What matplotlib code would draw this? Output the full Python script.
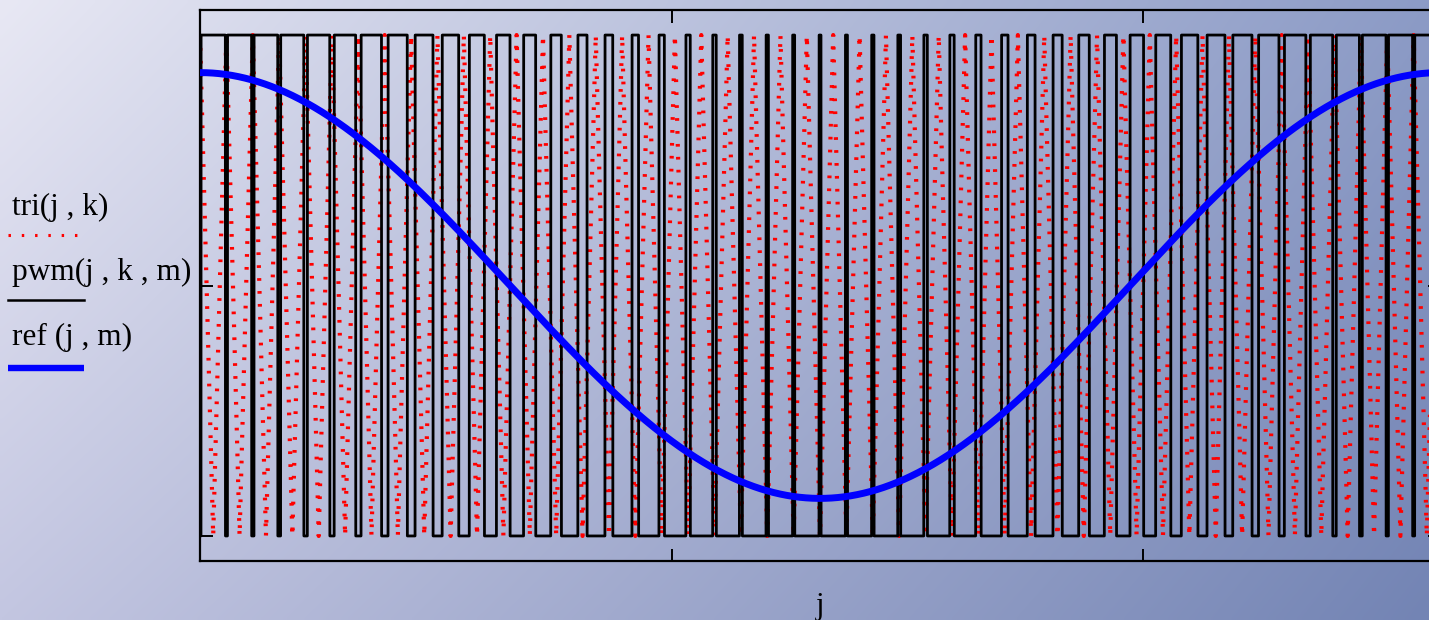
import numpy as np
import matplotlib
matplotlib.use('Agg')
import matplotlib.pyplot as plt
from matplotlib.lines import Line2D

# parameters
N = 1240            # samples of j in one period of ref (one full axis width)
k = 47              # carrier periods per ref period
m = 0.85            # modulation depth of ref
x_ticks = [0, 471.5, 943]
y_ticks = [-1, 0, 1]
y_range = (-1.1, 1.1)
legend_labels = ['tri(j , k)', 'pwm(j , k , m)', 'ref (j , m)']

W, H = 1429, 620


def px(x, y):
	# pixel position (from top-left) -> figure fraction
	return x / W, 1 - y / H


# functions of the chart
j = np.linspace(0, N, 60001)
ref = m * np.cos(2 * np.pi * j / N)
phase = (j * k / N) % 1.0
tri = 4 * np.abs(phase - 0.5) - 1
pwm = np.where(ref > tri, 1.0, -1.0)
# vertices of the carrier for the dotted trace
tri_j = np.arange(0, 2 * k + 1) * N / (2.0 * k)
tri_v = np.where(np.arange(0, 2 * k + 1) % 2 == 0, 1.0, -1.0)

fig = plt.figure(figsize=(W / 100.0, H / 100.0), dpi=100)

# background gradient (Mathcad style)
bg = fig.add_axes([0, 0, 1, 1], zorder=-10)
u = np.linspace(0, 1, 300)[None, :, None]
v = np.linspace(0, 1, 130)[:, None, None]
tl = np.array([232, 232, 244]) / 255.0
tr = np.array([140, 155, 198]) / 255.0
bl = np.array([195, 198, 225]) / 255.0
br = np.array([115, 132, 180]) / 255.0
top = tl + (tr - tl) * u
bot = bl + (br - bl) * u
img = top + (bot - top) * v
bg.imshow(img, aspect='auto', extent=[0, 1, 0, 1], origin='upper', interpolation='bilinear')
bg.axis('off')

l, b = px(200, 561)
r, t = px(1440, 10)
ax = fig.add_axes([l, b, r - l, t - b])
ax.patch.set_alpha(0)

ax.plot(tri_j, tri_v, color='red', lw=3.0, linestyle=(0, (0.65, 2.45)),
        dash_capstyle='butt', zorder=2)
ax.plot(j, pwm, color='black', lw=2.0, zorder=3)
ax.plot(j, ref, color='#0000ff', lw=5.0, zorder=4, solid_capstyle='butt')

ax.set_xlim(0, N)
ax.set_ylim(*y_range)
ax.set_xticks(x_ticks)
ax.set_yticks(y_ticks)
ax.tick_params(direction='in', length=9, width=1.4, top=True, right=True,
               labelbottom=False, labelleft=False, color='black')
for s in ax.spines.values():
	s.set_linewidth(1.6)
	s.set_color('black')

# axis label
fx, fy = px(820, 614)
fig.text(fx, fy, 'j', fontsize=22, family='Liberation Serif', ha='center', va='baseline')

# legend on the left
text_y = [215, 280, 345]
line_y = [235, 300, 368]
for lab, ty in zip(legend_labels, text_y):
	fx, fy = px(12, ty)
	fig.text(fx, fy, lab, fontsize=22.5, family='Liberation Serif', ha='left', va='baseline')

x0, _ = px(8, 0)
x1, _ = px(84, 0)
fig.add_artist(Line2D([x0, px(77, 0)[0]], [px(0, line_y[0])[1]] * 2, color='red', lw=2.2,
                      linestyle=(0, (0.8, 3.55)), dash_capstyle='butt', transform=fig.transFigure))
fig.add_artist(Line2D([x0, x1], [px(0, line_y[1])[1]] * 2, color='black', lw=1.8,
                      transform=fig.transFigure))
fig.add_artist(Line2D([x0, x1], [px(0, line_y[2])[1]] * 2, color='#0000ff', lw=4.6,
                      solid_capstyle='butt', transform=fig.transFigure))

plt.savefig('out.png', dpi=100)
